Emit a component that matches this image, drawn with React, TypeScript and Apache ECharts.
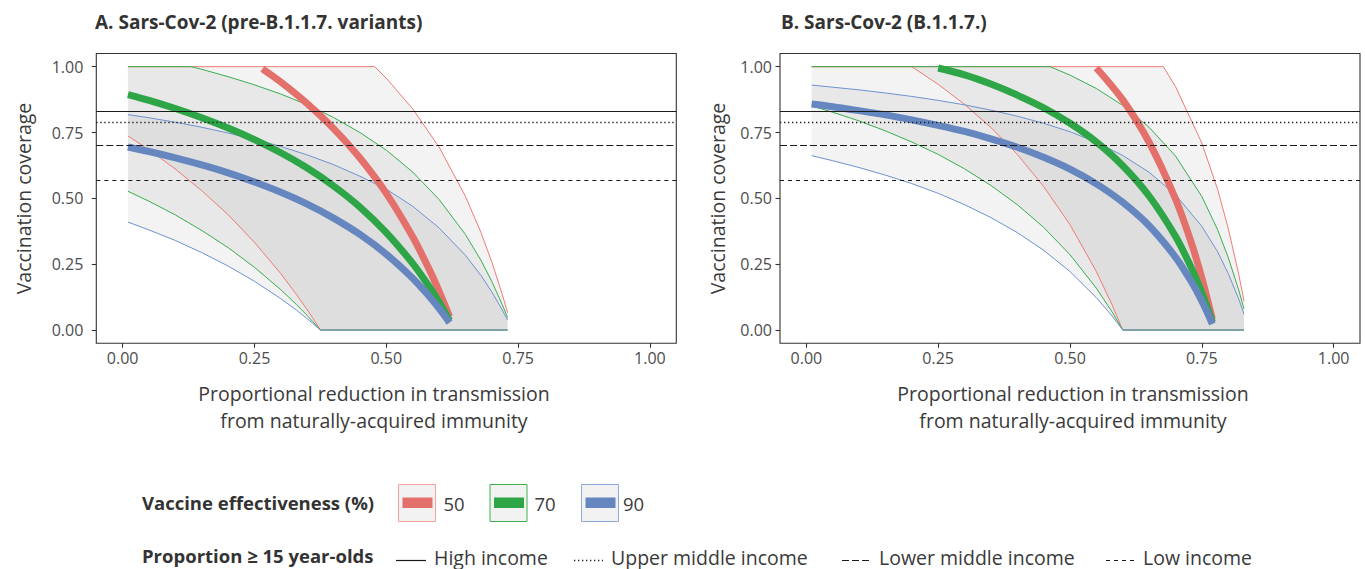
import React, { useEffect, useRef } from "react";
import * as echarts from "echarts";

// ---------- tick values ----------
const xTicks = [0, 0.25, 0.5, 0.75, 1];
const yTicks = [0, 0.25, 0.5, 0.75, 1];

// ---------- legend content ----------
const efficacyLabels = ["50", "70", "90"];
const incomeLabels = ["High income", "Upper middle income", "Lower middle income", "Low income"];
const incomeAdultShare = [0.834, 0.79, 0.696, 0.573];

// ---------- Panel A: pre-B.1.1.7 ----------
const aMidX = [0.01, 0.05, 0.1, 0.15, 0.2, 0.25, 0.3, 0.35, 0.4, 0.45, 0.5, 0.55, 0.58, 0.6, 0.62];
const aGreenMid = [0.894, 0.872, 0.841, 0.806, 0.767, 0.723, 0.673, 0.615, 0.547, 0.467, 0.37, 0.253, 0.169, 0.106, 0.036];
const aBlueMid = [0.695, 0.678, 0.654, 0.627, 0.597, 0.562, 0.523, 0.478, 0.425, 0.363, 0.288, 0.197, 0.131, 0.082, 0.028];
const aRedMidX = [0.265, 0.3, 0.35, 0.4, 0.45, 0.5, 0.55, 0.58, 0.6, 0.62];
const aRedMid = [0.992, 0.942, 0.86, 0.765, 0.653, 0.519, 0.354, 0.236, 0.148, 0.051];

const aLowX = [0.01, 0.05, 0.1, 0.15, 0.2, 0.25, 0.3, 0.33, 0.35, 0.36, 0.375, 0.73];
const aRedLow = [0.737, 0.684, 0.611, 0.529, 0.438, 0.333, 0.214, 0.134, 0.077, 0.047, 0, 0];
const aGreenLow = [0.527, 0.489, 0.437, 0.378, 0.313, 0.238, 0.153, 0.096, 0.055, 0.033, 0, 0];
const aBlueLow = [0.41, 0.38, 0.34, 0.294, 0.243, 0.185, 0.119, 0.075, 0.043, 0.026, 0, 0];

const aRedUpX = [0.01, 0.478, 0.5, 0.55, 0.6, 0.65, 0.68, 0.7, 0.72, 0.73];
const aRedUp = [1, 1, 0.956, 0.84, 0.695, 0.508, 0.368, 0.259, 0.135, 0.066];
const aGreenUpX = [0.01, 0.13, 0.15, 0.2, 0.25, 0.3, 0.35, 0.4, 0.45, 0.5, 0.55, 0.6, 0.65, 0.68, 0.7, 0.72, 0.73];
const aGreenUp = [1, 1, 0.99, 0.962, 0.931, 0.896, 0.855, 0.807, 0.75, 0.683, 0.6, 0.496, 0.363, 0.263, 0.185, 0.096, 0.048];
const aBlueUpX = [0.01, 0.05, 0.1, 0.15, 0.2, 0.25, 0.3, 0.35, 0.4, 0.45, 0.5, 0.55, 0.6, 0.65, 0.68, 0.7, 0.72, 0.73];
const aBlueUp = [0.818, 0.806, 0.789, 0.77, 0.748, 0.724, 0.697, 0.665, 0.628, 0.584, 0.535, 0.47, 0.388, 0.284, 0.206, 0.145, 0.076, 0.038];

// ---------- Panel B: B.1.1.7 ----------
const bBlueMidX = [0.01, 0.05, 0.1, 0.15, 0.2, 0.25, 0.3, 0.35, 0.4, 0.45, 0.5, 0.55, 0.6, 0.65, 0.7, 0.73, 0.75, 0.77];
const bBlueMid = [0.858, 0.848, 0.833, 0.817, 0.798, 0.777, 0.754, 0.726, 0.694, 0.656, 0.611, 0.555, 0.485, 0.396, 0.277, 0.184, 0.11, 0.023];
const bGreenMidX = [0.25, 0.3, 0.35, 0.4, 0.45, 0.5, 0.55, 0.6, 0.65, 0.7, 0.73, 0.75, 0.77];
const bGreenMid = [0.995, 0.969, 0.934, 0.892, 0.844, 0.785, 0.714, 0.624, 0.509, 0.356, 0.237, 0.142, 0.03];
const bRedMidX = [0.55, 0.6, 0.65, 0.7, 0.73, 0.75, 0.77];
const bRedMid = [0.995, 0.874, 0.713, 0.498, 0.332, 0.198, 0.042];

const bLowX = [0.01, 0.05, 0.1, 0.15, 0.2, 0.25, 0.3, 0.35, 0.4, 0.45, 0.5, 0.55, 0.58, 0.6, 0.83];
const bGreenLow = [0.851, 0.827, 0.794, 0.756, 0.714, 0.667, 0.612, 0.549, 0.476, 0.39, 0.286, 0.159, 0.068, 0, 0];
const bBlueLow = [0.662, 0.643, 0.617, 0.588, 0.556, 0.519, 0.476, 0.427, 0.37, 0.303, 0.222, 0.123, 0.053, 0, 0];
const bRedLowX = [0.01, 0.2, 0.25, 0.3, 0.35, 0.4, 0.45, 0.5, 0.55, 0.58, 0.6, 0.83];
const bRedLow = [1, 1, 0.933, 0.857, 0.769, 0.667, 0.545, 0.4, 0.222, 0.095, 0, 0];

const bBlueUpX = [0.01, 0.05, 0.1, 0.15, 0.2, 0.25, 0.3, 0.35, 0.4, 0.45, 0.5, 0.55, 0.6, 0.65, 0.7, 0.75, 0.78, 0.8, 0.82, 0.83];
const bBlueUp = [0.93, 0.922, 0.912, 0.9, 0.887, 0.872, 0.855, 0.835, 0.812, 0.785, 0.753, 0.713, 0.663, 0.599, 0.514, 0.394, 0.297, 0.215, 0.118, 0.06];
const bGreenUpX = [0.01, 0.462, 0.5, 0.55, 0.6, 0.65, 0.7, 0.75, 0.78, 0.8, 0.82, 0.83];
const bGreenUp = [1, 1, 0.968, 0.917, 0.853, 0.77, 0.661, 0.507, 0.381, 0.276, 0.152, 0.08];
const bRedUpX = [0.01, 0.677, 0.7, 0.75, 0.78, 0.8, 0.82, 0.83];
const bRedUp = [1, 1, 0.925, 0.71, 0.534, 0.387, 0.212, 0.11];

// ---------- styles ----------
const FONT = "'Open Sans', sans-serif";
const MID_COLORS = ["#E3706A", "#2EA647", "#6586BF"];
const THIN_COLORS = ["#EE7B74", "#39AD4E", "#6E92CF"];
const BOX_BORDERS = ["#F2A3A0", "#3DB04F", "#8CA9DA"];
const RIBBON_FILL = "rgba(128,128,128,0.095)";
const INCOME_DASH: any[] = ["solid", [1.3, 2.7], [7, 3], [4, 4]];

const zip = (xs: number[], ys: number[]) => xs.map((x, i) => [x, ys[i]]);

type Band = { lower: number[][]; upper: number[][]; mid: number[][] };

const panels: { bands: Band[] }[] = [
  {
    bands: [
      { lower: zip(aLowX, aRedLow), upper: zip(aRedUpX, aRedUp), mid: zip(aRedMidX, aRedMid) },
      { lower: zip(aLowX, aGreenLow), upper: zip(aGreenUpX, aGreenUp), mid: zip(aMidX, aGreenMid) },
      { lower: zip(aLowX, aBlueLow), upper: zip(aBlueUpX, aBlueUp), mid: zip(aMidX, aBlueMid) },
    ],
  },
  {
    bands: [
      { lower: zip(bRedLowX, bRedLow), upper: zip(bRedUpX, bRedUp), mid: zip(bRedMidX, bRedMid) },
      { lower: zip(bLowX, bGreenLow), upper: zip(bGreenUpX, bGreenUp), mid: zip(bGreenMidX, bGreenMid) },
      { lower: zip(bLowX, bBlueLow), upper: zip(bBlueUpX, bBlueUp), mid: zip(bBlueMidX, bBlueMid) },
    ],
  },
];

const GRID_LEFT = [96.3, 780];
const GRID_W = 580;
const GRID_TOP = 53.5;
const GRID_H = 289.7;
const YLABEL_MARGIN = [13, 8];
const XTITLE_CX = [374, 1073];
const YTITLE_CX = [23, 717];

function buildOption() {
  const grid = GRID_LEFT.map((l) => ({
    left: l,
    top: GRID_TOP,
    width: GRID_W,
    height: GRID_H,
    show: true,
    borderColor: "#333",
    borderWidth: 1.1,
    backgroundColor: "transparent",
  }));
  const axisLabel = (margin: number) => ({
    formatter: (v: number) => v.toFixed(2),
    margin,
    fontSize: 16,
    color: "#4d4d4d",
    fontFamily: FONT,
  });
  const xAxis = GRID_LEFT.map((_, i) => ({
    type: "value",
    gridIndex: i,
    min: -0.05,
    max: 1.05,
    splitLine: { show: false },
    axisLine: { show: false, onZero: false },
    axisTick: { show: true, length: 4.5, customValues: xTicks, lineStyle: { color: "#333", width: 1.1 } },
    axisLabel: { ...axisLabel(7), customValues: xTicks },
  }));
  const yAxis = GRID_LEFT.map((_, i) => ({
    type: "value",
    gridIndex: i,
    min: -0.05,
    max: 1.05,
    splitLine: { show: false },
    axisLine: { show: false, onZero: false },
    axisTick: { show: true, length: 4.5, customValues: yTicks, lineStyle: { color: "#333", width: 1.1 } },
    axisLabel: { ...axisLabel(YLABEL_MARGIN[i]), customValues: yTicks },
  }));

  const series: any[] = [];
  panels.forEach((panel, p) => {
    // ribbons
    panel.bands.forEach((band) => {
      series.push({
        type: "custom",
        xAxisIndex: p,
        yAxisIndex: p,
        silent: true,
        clip: true,
        z: 1,
        data: [[0.5, 0.5]],
        renderItem: (_params: any, api: any) => {
          const pts = band.upper
            .map((d) => api.coord(d))
            .concat(band.lower.slice().reverse().map((d) => api.coord(d)));
          return { type: "polygon", shape: { points: pts }, style: { fill: RIBBON_FILL, stroke: "none" } };
        },
      });
    });
    // bound lines
    panel.bands.forEach((band, k) => {
      [band.upper, band.lower].forEach((d) => {
        series.push({
          type: "line",
          xAxisIndex: p,
          yAxisIndex: p,
          data: d,
          showSymbol: false,
          silent: true,
          z: 2,
          lineStyle: { color: THIN_COLORS[k], width: 1 },
        });
      });
    });
    // central lines
    panel.bands.forEach((band, k) => {
      series.push({
        type: "line",
        xAxisIndex: p,
        yAxisIndex: p,
        data: band.mid,
        showSymbol: false,
        silent: true,
        smooth: 0.3,
        z: 3,
        lineStyle: { color: MID_COLORS[k], width: 7, cap: "butt", join: "round" },
      });
    });
    // income reference lines
    series.push({
      type: "line",
      xAxisIndex: p,
      yAxisIndex: p,
      data: [],
      z: 5,
      markLine: {
        silent: true,
        symbol: ["none", "none"],
        label: { show: false },
        animation: false,
        data: incomeAdultShare.map((v, i) => ({
          yAxis: v,
          lineStyle: { type: INCOME_DASH[i], color: "#1a1a1a", width: i === 1 ? 1.3 : 1.1 },
        })),
      },
    });
  });

  const txt = (x: number, y: number, text: string, extra: any = {}) => ({
    type: "text",
    x,
    y,
    silent: true,
    style: {
      text,
      fontFamily: FONT,
      fontSize: 19.5,
      fill: "#3a3a3a",
      verticalAlign: "middle",
      ...extra,
    },
  });

  const graphic: any[] = [];
  // panel titles
  graphic.push(txt(95, 22, "A. Sars-Cov-2 (pre-B.1.1.7. variants)", { fontWeight: "bold", fontSize: 19, fill: "#333" }));
  graphic.push(txt(781, 22, "B. Sars-Cov-2 (B.1.1.7.)", { fontWeight: "bold", fontSize: 19, fill: "#333" }));
  // y titles
  YTITLE_CX.forEach((x) => {
    graphic.push({
      type: "text",
      x,
      y: 198.5,
      rotation: Math.PI / 2,
      silent: true,
      style: {
        text: "Vaccination coverage",
        fontFamily: FONT,
        fontSize: 19.5,
        fill: "#3a3a3a",
        align: "center",
        verticalAlign: "middle",
      },
    });
  });
  // x titles
  XTITLE_CX.forEach((cx) => {
    graphic.push({
      type: "text",
      x: cx,
      y: 407,
      silent: true,
      style: {
        text: "Proportional reduction in transmission\nfrom naturally-acquired immunity",
        fontFamily: FONT,
        fontSize: 19.5,
        lineHeight: 27.5,
        fill: "#3a3a3a",
        align: "center",
        verticalAlign: "middle",
      },
    });
  });

  // legend row 1
  graphic.push(txt(142, 502, "Vaccine effectiveness (%)", { fontWeight: "bold", fontSize: 18.5, fill: "#333" }));
  const boxX = [398.5, 490, 581.5];
  const labelX = [443.5, 534.5, 623];
  efficacyLabels.forEach((lab, k) => {
    graphic.push({
      type: "rect",
      silent: true,
      shape: { x: boxX[k], y: 484.5, width: 37, height: 37 },
      style: { fill: "#f2f2f2", stroke: BOX_BORDERS[k], lineWidth: 1 },
    });
    graphic.push({
      type: "rect",
      silent: true,
      shape: { x: boxX[k] + 4, y: 497.5, width: 30, height: 10.5 },
      style: { fill: MID_COLORS[k] },
    });
    graphic.push(txt(labelX[k], 503, lab, { fontSize: 18.5 }));
  });

  // legend row 2
  graphic.push(txt(142, 555, "Proportion \u2265 15 year-olds", { fontWeight: "bold", fontSize: 18.5, fill: "#333" }));
  const keyX = [[396, 426], [574, 603], [842, 870], [1106, 1137]];
  const incomeTextX = [434, 611, 879, 1143];
  incomeLabels.forEach((lab, i) => {
    graphic.push({
      type: "line",
      silent: true,
      shape: { x1: keyX[i][0], y1: 560.5, x2: keyX[i][1], y2: 560.5 },
      style: {
        stroke: "#1a1a1a",
        lineWidth: i === 1 ? 1.4 : 1.2,
        lineDash: INCOME_DASH[i] === "solid" ? null : INCOME_DASH[i],
      },
    });
    graphic.push(txt(incomeTextX[i], 557, lab));
  });

  return {
    animation: false,
    backgroundColor: "#ffffff",
    grid,
    xAxis,
    yAxis,
    series,
    graphic,
  };
}

export default function App() {
  const ref = useRef<HTMLDivElement>(null);
  useEffect(() => {
    if (!ref.current) return;
    const chart = echarts.init(ref.current, undefined, { renderer: "svg" });
    chart.setOption(buildOption() as any);
    return () => chart.dispose();
  }, []);
  return (
    <div
      ref={ref}
      style={{ position: "absolute", left: 0, top: 0, width: "1365px", height: "569px" }}
    />
  );
}
